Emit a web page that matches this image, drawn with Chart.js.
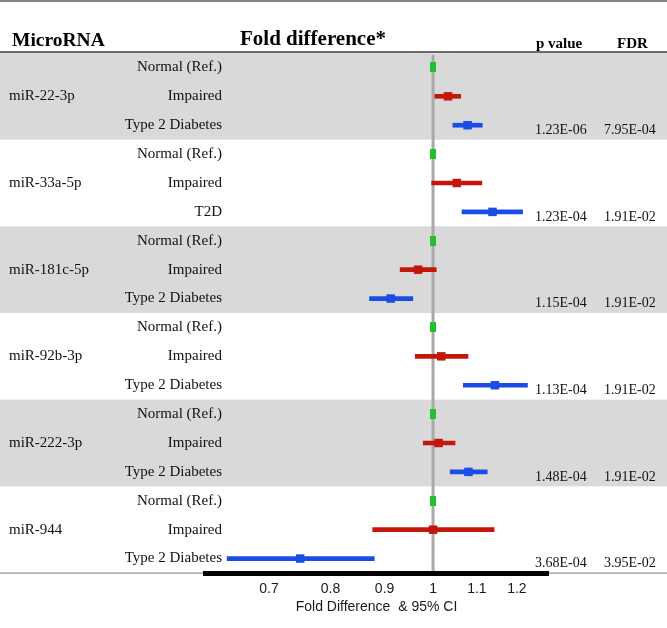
<!DOCTYPE html>
<html>
<head>
<meta charset="utf-8">
<script src="https://cdn.jsdelivr.net/npm/chart.js@4.4.1/dist/chart.umd.min.js"></script>
<style>
  html, body { margin: 0; padding: 0; background: #ffffff; }
  #wrap { width: 667px; height: 628px; position: relative; }
</style>
</head>
<body>
<div id="wrap"><canvas id="c"></canvas></div>
<script>
// ---- data ----
const microRNAs = ['miR-22-3p', 'miR-33a-5p', 'miR-181c-5p', 'miR-92b-3p', 'miR-222-3p', 'miR-944'];
const thirdLabels = ['Type 2 Diabetes', 'T2D', 'Type 2 Diabetes', 'Type 2 Diabetes', 'Type 2 Diabetes', 'Type 2 Diabetes'];
const normalFold = [1, 1, 1, 1, 1, 1];
const impairedFold = [1.033, 1.053, 0.968, 1.018, 1.012, 1.000];
const impairedLow  = [1.004, 0.997, 0.931, 0.962, 0.979, 0.877];
const impairedHigh = [1.062, 1.112, 1.007, 1.079, 1.049, 1.142];
const t2dFold = [1.078, 1.138, 0.912, 1.144, 1.080, 0.749];
const t2dLow  = [1.044, 1.065, 0.871, 1.068, 1.038, 0.639];
const t2dHigh = [1.113, 1.215, 0.957, 1.228, 1.125, 0.880];
const pValues = ['1.23E-06', '1.23E-04', '1.15E-04', '1.13E-04', '1.48E-04', '3.68E-04'];
const fdrValues = ['7.95E-04', '1.91E-02', '1.91E-02', '1.91E-02', '1.91E-02', '3.95E-02'];
const xTicks = [0.7, 0.8, 0.9, 1, 1.1, 1.2];
const xMin = 0.609, xMax = 1.284;

// ---- build row-aligned arrays ----
const rowLabels = [];
const normalPts = [], impairedPts = [], t2dPts = [], impairedCI = [], t2dCI = [];
microRNAs.forEach((m, g) => {
  rowLabels.push('Normal (Ref.)', 'Impaired', thirdLabels[g]);
  normalPts.push(normalFold[g], null, null);
  impairedPts.push(null, impairedFold[g], null);
  t2dPts.push(null, null, t2dFold[g]);
  impairedCI.push(null, [impairedLow[g], impairedHigh[g]], null);
  t2dCI.push(null, null, [t2dLow[g], t2dHigh[g]]);
});

const RED = '#c4170c', BLUE = '#1b4de6', GREEN = '#21c02c';
const SERIF = '"Liberation Serif", "Times New Roman", serif';
const SANS = '"Liberation Sans", Arial, sans-serif';

const greenMark = document.createElement('canvas');
greenMark.width = 6; greenMark.height = 10;
{ const g = greenMark.getContext('2d'); g.fillStyle = GREEN; g.fillRect(0, 0, 6, 10); }

const tablePlugin = {
  id: 'table',
  beforeDraw(chart) {
    const ctx = chart.ctx, W = chart.width;
    const ys = chart.scales.y, xs = chart.scales.x, area = chart.chartArea;
    const rowH = ys.getPixelForValue(1) - ys.getPixelForValue(0);
    ctx.save();
    ctx.fillStyle = '#ffffff';
    ctx.fillRect(0, 0, W, chart.height);
    // bands
    microRNAs.forEach((m, g) => {
      const top = ys.getPixelForValue(g * 3) - rowH / 2;
      const bot = ys.getPixelForValue(g * 3 + 2) + rowH / 2;
      if (g % 2 === 0) { ctx.fillStyle = '#d9d9d9'; ctx.fillRect(0, top, W, bot - top); }
    });
    // rules
    ctx.fillStyle = '#858585'; ctx.fillRect(0, 0, W, 2);
    ctx.fillStyle = '#6a6a6a'; ctx.fillRect(0, area.top - 2, W, 2);
    ctx.fillStyle = '#8f8f8f'; ctx.fillRect(0, area.bottom - 0.5, W, 1.2);
    // reference line at 1
    const x1 = xs.getPixelForValue(1);
    ctx.fillStyle = '#a9a9a9'; ctx.fillRect(x1 - 1.5, area.top + 2, 3, area.bottom - area.top - 2);
    // headers
    ctx.fillStyle = '#000000';
    ctx.textBaseline = 'alphabetic';
    ctx.font = 'bold 19.5px ' + SERIF;
    ctx.textAlign = 'left';
    ctx.fillText('MicroRNA', 12, 46);
    ctx.font = 'bold 21px ' + SERIF;
    ctx.fillText('Fold difference*', 240, 45);
    ctx.font = 'bold 15px ' + SERIF;
    ctx.fillText('p value', 536, 48);
    ctx.fillText('FDR', 617, 48);
    // row texts
    ctx.textBaseline = 'middle';
    ctx.fillStyle = '#111111';
    rowLabels.forEach((lab, i) => {
      ctx.font = '15px ' + SERIF;
      ctx.textAlign = 'right';
      ctx.fillText(lab, 222, ys.getPixelForValue(i));
    });
    microRNAs.forEach((m, g) => {
      ctx.font = '15px ' + SERIF;
      ctx.textAlign = 'left';
      ctx.fillText(m, 9, ys.getPixelForValue(g * 3 + 1));
      ctx.font = '14px ' + SERIF;
      const yv = ys.getPixelForValue(g * 3 + 2) + 5;
      ctx.fillText(pValues[g], 535, yv);
      ctx.fillText(fdrValues[g], 604, yv);
    });
    ctx.restore();
  }
};

new Chart(document.getElementById('c'), {
  type: 'bar',
  data: {
    labels: rowLabels,
    datasets: [
      { type: 'bar', label: 'Impaired CI', data: impairedCI, backgroundColor: RED, barThickness: 4, grouped: false, order: 3 },
      { type: 'bar', label: 'T2D CI', data: t2dCI, backgroundColor: BLUE, barThickness: 4, grouped: false, order: 3 },
      { type: 'line', label: 'Normal', data: normalPts, showLine: false, pointStyle: greenMark, pointRadius: 5, order: 1 },
      { type: 'line', label: 'Impaired', data: impairedPts, showLine: false, pointStyle: 'rect', pointRadius: 6,
        backgroundColor: RED, borderColor: RED, borderWidth: 0, order: 1 },
      { type: 'line', label: 'Type 2 Diabetes', data: t2dPts, showLine: false, pointStyle: 'rect', pointRadius: 6,
        backgroundColor: BLUE, borderColor: BLUE, borderWidth: 0, order: 1 }
    ]
  },
  options: {
    indexAxis: 'y',
    responsive: true,
    maintainAspectRatio: false,
    animation: false,
    devicePixelRatio: 1,
    layout: { padding: { left: 205, right: 119, top: 53, bottom: 0 } },
    plugins: { legend: { display: false }, tooltip: { enabled: false }, title: { display: false } },
    scales: {
      y: { type: 'category', display: false, offset: true },
      x: {
        type: 'logarithmic',
        min: xMin, max: xMax,
        bounds: 'data',
        grid: { display: false, drawTicks: false },
        border: { display: true, color: '#000000', width: 5 },
        afterBuildTicks: (scale) => { scale.ticks = xTicks.map(v => ({ value: v })); },
        afterFit: (scale) => { scale.height = 55; },
        ticks: {
          autoSkip: false, maxRotation: 0, padding: 8,
          color: '#1a1a1a', font: { family: SANS, size: 14 },
          callback: (v) => String(v)
        },
        title: {
          display: true, text: 'Fold Difference  & 95% CI', color: '#1a1a1a',
          font: { family: SANS, size: 14 }, padding: { top: 0, bottom: 12 }
        }
      }
    }
  },
  plugins: [tablePlugin]
});
</script>
</body>
</html>
